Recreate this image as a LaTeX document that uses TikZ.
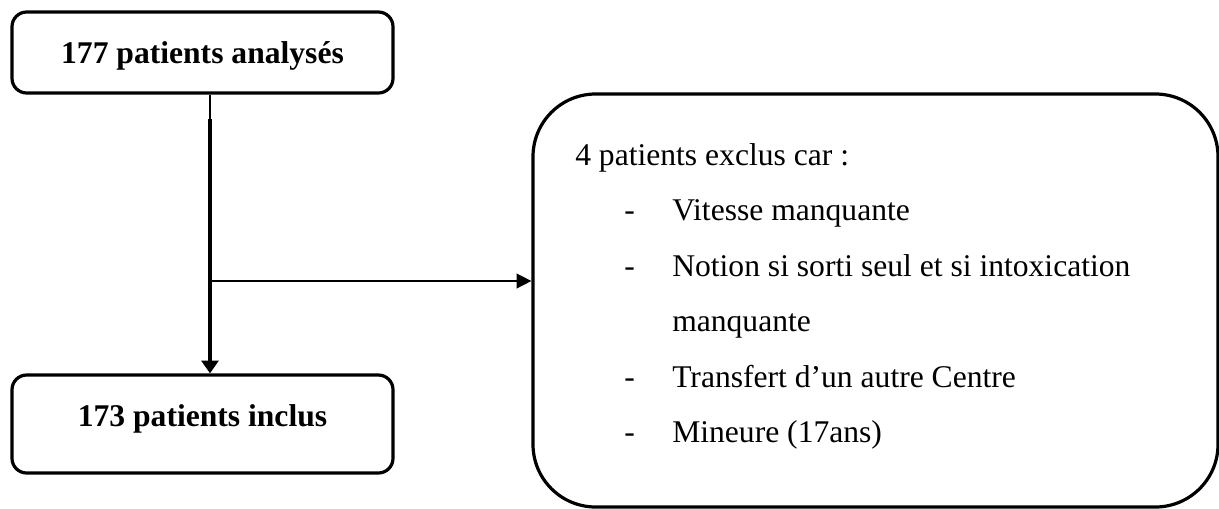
\documentclass[tikz,border=0pt]{standalone}
\usepackage{fontspec}
\setmainfont{Liberation Serif}
\usetikzlibrary{arrows.meta}
\begin{document}
\begin{tikzpicture}[x=0.75pt,y=-0.75pt,
  box/.style={draw=black, line width=2.4pt, rounded corners=11pt, inner sep=0pt, rectangle},
  bigbox/.style={draw=black, line width=2.4pt, rounded corners=47pt, inner sep=0pt, rectangle},
  txt/.style={inner sep=0pt, font=\fontsize{23.7}{28}\selectfont},
  btxt/.style={txt, font=\fontsize{23.7}{28}\selectfont\bfseries},
  thinline/.style={line width=1.1pt},
  thickline/.style={line width=2.6pt},
]
\useasboundingbox (0,0) rectangle (1219,508);
% boxes
\node[box, minimum width=285.75pt, minimum height=60.75pt] (top) at (202.5,52.5) {};
\node[box, minimum width=285.75pt, minimum height=73.5pt] (incl) at (202.5,424) {};
\node[bigbox, minimum width=513.75pt, minimum height=309.75pt] (excl) at (875.5,300.5) {};
% texts
\node[btxt, anchor=base] (ttop) at (202.5,63) {177 patients analysés};
\node[btxt, anchor=base] (tincl) at (202.5,426) {173 patients inclus};
\node[txt, anchor=base west] (thead) at (575,165) {4 patients exclus car :};
\node[txt, anchor=base west] (d1) at (624,220.5) {-};
\node[txt, anchor=base west] (i1) at (672,220.5) {Vitesse manquante};
\node[txt, anchor=base west] (d2) at (624,276) {-};
\node[txt, anchor=base west] (i2) at (672,276) {Notion si sorti seul et si intoxication};
\node[txt, anchor=base west] (i2b) at (672,331) {manquante};
\node[txt, anchor=base west] (d3) at (624,387) {-};
\node[txt, anchor=base west] (i3) at (672,387) {Transfert d’un autre Centre};
\node[txt, anchor=base west] (d4) at (624,442) {-};
\node[txt, anchor=base west] (i4) at (672,442) {Mineure (17ans)};
% connectors
\coordinate (vx) at (210,0);
\coordinate (knee) at (210,119);
\coordinate (branch) at (210,281);
\draw[thinline] (vx |- top.south) -- (knee);
\draw[thickline, -{Triangle[length=9.5pt,width=12.5pt]}] (knee) -- (vx |- incl.north);
\draw[thinline, -{Triangle[length=11pt,width=11pt]}] (branch) -- (branch -| excl.west);
\end{tikzpicture}
\end{document}
